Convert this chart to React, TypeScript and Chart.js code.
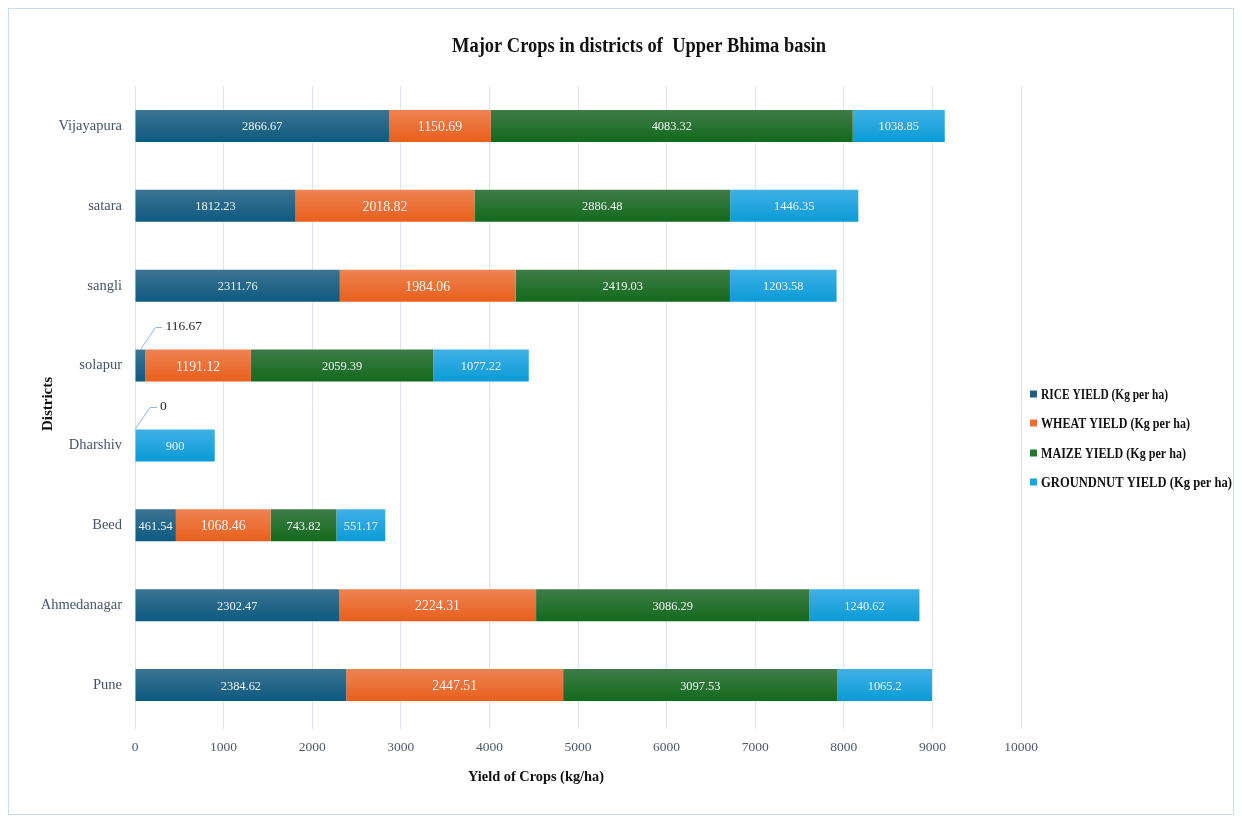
import React, { useEffect, useRef } from "react";
import { Chart, registerables } from "chart.js";

Chart.register(...registerables);

const categories = ["Vijayapura", "satara", "sangli", "solapur", "Dharshiv", "Beed", "Ahmedanagar", "Pune"];
const riceYield = [2866.67, 1812.23, 2311.76, 116.67, 0, 461.54, 2302.47, 2384.62];
const wheatYield = [1150.69, 2018.82, 1984.06, 1191.12, null, 1068.46, 2224.31, 2447.51];
const maizeYield = [4083.32, 2886.48, 2419.03, 2059.39, null, 743.82, 3086.29, 3097.53];
const groundnutYield = [1038.85, 1446.35, 1203.58, 1077.22, 900, 551.17, 1240.62, 1065.2];
const xTicks = [0, 1000, 2000, 3000, 4000, 5000, 6000, 7000, 8000, 9000, 10000];
const seriesNames = [
  "RICE YIELD (Kg per ha)",
  "WHEAT YIELD (Kg per ha)",
  "MAIZE YIELD (Kg per ha)",
  "GROUNDNUT YIELD (Kg per ha)",
];

const FONT = "'Liberation Serif', 'Times New Roman', serif";
const W = 1224;
const H = 805;

const palette = [
  { base: "#1f5f86", top: "#3d7392", bottom: "#0d5a80" },
  { base: "#ed7030", top: "#ef8352", bottom: "#e85f1c" },
  { base: "#1f7a2b", top: "#3f7c47", bottom: "#126a1d" },
  { base: "#1ea3df", top: "#40b0e6", bottom: "#0a9bd7" },
];

function gradFor(idx: number) {
  return (ctx: any) => {
    const chart = ctx.chart;
    const y = chart.scales && chart.scales.y;
    const c = palette[idx];
    if (!y || ctx.dataIndex === undefined) return c.base;
    const yc = y.getPixelForValue(ctx.dataIndex);
    if (!Number.isFinite(yc)) return c.base;
    const g = chart.ctx.createLinearGradient(0, yc - 16, 0, yc + 16);
    g.addColorStop(0, c.top);
    g.addColorStop(1, c.bottom);
    return g;
  };
}

const decorPlugin = {
  id: "decor",
  afterDatasetsDraw(chart: any) {
    const ctx = chart.ctx;
    ctx.save();
    chart.data.datasets.forEach((ds: any, di: number) => {
      const meta = chart.getDatasetMeta(di);
      meta.data.forEach((bar: any, i: number) => {
        const v = ds.data[i];
        if (v === null || v === undefined) return;
        const left = Math.min(bar.x, bar.base);
        const right = Math.max(bar.x, bar.base);
        const w = right - left;
        const label = String(v);
        if (w < 40) {
          const sx = left + w / 2;
          const sy = bar.y - bar.height / 2;
          ctx.strokeStyle = "#8db6de";
          ctx.lineWidth = 1;
          ctx.beginPath();
          ctx.moveTo(sx, sy);
          ctx.lineTo(sx + 15, sy - 22);
          ctx.lineTo(sx + 22, sy - 22);
          ctx.stroke();
          ctx.fillStyle = "#262626";
          ctx.font = `13.5px ${FONT}`;
          ctx.textAlign = "left";
          ctx.textBaseline = "middle";
          ctx.fillText(label, sx + 25, sy - 23);
        } else {
          ctx.fillStyle = "#f0f3f5";
          ctx.font = di === 1 ? `15px ${FONT}` : `13.5px ${FONT}`;
          ctx.textAlign = "center";
          ctx.textBaseline = "middle";
          const tw = ctx.measureText(label).width;
          ctx.fillText(label, left + w / 2, bar.y + 1, tw * 0.92);
        }
      });
    });
    ctx.restore();
  },
  afterDraw(chart: any) {
    const ctx = chart.ctx;
    ctx.save();
    ctx.fillStyle = "#111111";
    ctx.font = `bold 20px ${FONT}`;
    ctx.textAlign = "center";
    ctx.textBaseline = "middle";
    ctx.fillText("Major Crops in districts of  Upper Bhima basin", 630, 38, 374);
    ctx.font = `bold 15px ${FONT}`;
    ctx.fillText("Yield of Crops (kg/ha)", 527, 768, 136);
    ctx.save();
    ctx.translate(39, 395);
    ctx.rotate(-Math.PI / 2);
    ctx.fillText("Districts", 0, 0, 66);
    ctx.restore();
    const ys = [385, 414, 444, 473];
    ctx.textAlign = "left";
    ctx.font = `bold 15px ${FONT}`;
    const widths = [127, 149, 145, 191];
    seriesNames.forEach((name, i) => {
      ctx.fillStyle = palette[i].base;
      ctx.fillRect(1021, ys[i] - 3.5, 7, 7);
      ctx.fillStyle = "#111111";
      ctx.fillText(name, 1032, ys[i] + 1, widths[i]);
    });
    ctx.restore();
  },
};

export default function App() {
  const ref = useRef<HTMLCanvasElement | null>(null);

  useEffect(() => {
    if (!ref.current) return;
    Chart.defaults.font.family = FONT;
    const chart = new Chart(ref.current, {
      type: "bar",
      data: {
        labels: categories,
        datasets: [
          { label: seriesNames[0], data: riceYield, backgroundColor: gradFor(0) },
          { label: seriesNames[1], data: wheatYield, backgroundColor: gradFor(1) },
          { label: seriesNames[2], data: maizeYield, backgroundColor: gradFor(2) },
          { label: seriesNames[3], data: groundnutYield, backgroundColor: gradFor(3) },
        ] as any,
      },
      options: {
        indexAxis: "y",
        responsive: false,
        animation: false,
        layout: { padding: { left: 0, right: 212, top: 77, bottom: 0 } },
        datasets: { bar: { categoryPercentage: 1, barPercentage: 0.4 } },
        plugins: {
          legend: { display: false },
          title: { display: false },
          tooltip: { enabled: false },
        },
        scales: {
          x: {
            stacked: true,
            min: 0,
            max: 10000,
            afterBuildTicks: (scale: any) => {
              scale.ticks = xTicks.map((v) => ({ value: v }));
            },
            afterFit: (scale: any) => {
              scale.height = 89;
            },
            grid: { color: "#d8e5f3", lineWidth: 1, tickLength: 4, drawTicks: true },
            border: { display: false },
            ticks: {
              color: "#4a5a6e",
              font: { size: 13.5, family: FONT },
              padding: 10,
              maxRotation: 0,
              callback: (v: any) => String(v),
            },
          },
          y: {
            stacked: true,
            afterFit: (scale: any) => {
              scale.width = 126;
            },
            grid: { display: false },
            border: { display: false },
            ticks: { color: "#44546a", font: { size: 14.5, family: FONT }, padding: 5 },
          },
        },
      } as any,
      plugins: [decorPlugin],
    });
    return () => chart.destroy();
  }, []);

  return (
    <div
      style={{
        width: 1226,
        height: 807,
        border: "1px solid #c8dcf0",
        boxSizing: "border-box",
        background: "#ffffff",
      }}
    >
      <canvas ref={ref} width={W} height={H} style={{ display: "block", width: W, height: H }} />
    </div>
  );
}
